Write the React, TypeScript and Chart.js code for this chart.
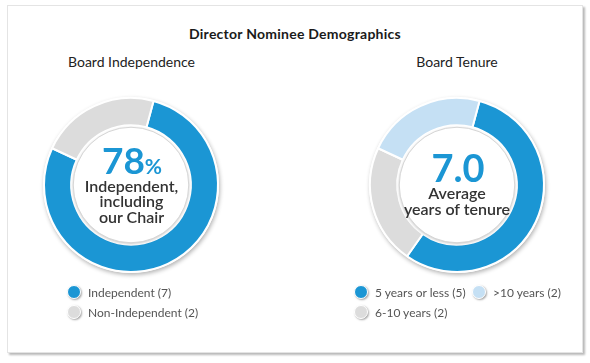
import React, { useEffect, useRef } from "react";
import { Chart, registerables } from "chart.js";

Chart.register(...registerables);

// ---- data ----
const mainTitle = "Director Nominee Demographics";

const independenceTitle = "Board Independence";
const independenceLabels = ["Independent", "Non-Independent"];
const independenceCounts = [7, 2];
const independenceColors = ["#1b96d4", "#dcdcdc"];
const independenceCenterValue = "78";
const independenceCenterUnit = "%";
const independenceCenterLines = ["Independent,", "including", "our Chair"];

const tenureTitle = "Board Tenure";
const tenureLabels = ["5 years or less", "6-10 years", ">10 years"];
const tenureCounts = [5, 2, 2];
const tenureColors = ["#1b96d4", "#dcdcdc", "#c5e0f4"];
const tenureCenterValue = "7.0";
const tenureCenterLines = ["Average", "years of tenure"];

const FONT = "Lato, 'Noto Sans', sans-serif";
const ASC = 0.887; // baseline offset (em) for Lato at line-height 1

const ringDecor = {
  id: "ringDecor",
  beforeDatasetsDraw(chart: any) {
    const arc = chart.getDatasetMeta(0).data[0];
    if (!arc) return;
    const { x, y, outerRadius } = arc.getProps(["x", "y", "outerRadius"], true);
    const ctx = chart.ctx;
    ctx.save();
    ctx.beginPath();
    ctx.arc(x, y, outerRadius + 1, 0, Math.PI * 2);
    ctx.fillStyle = "#ffffff";
    ctx.shadowColor = "rgba(0,0,0,0.30)";
    ctx.shadowBlur = 4;
    ctx.shadowOffsetX = 1;
    ctx.shadowOffsetY = 2;
    ctx.fill();
    ctx.restore();
  },
  afterDatasetsDraw(chart: any) {
    const arc = chart.getDatasetMeta(0).data[0];
    if (!arc) return;
    const { x, y, innerRadius } = arc.getProps(["x", "y", "innerRadius"], true);
    const ctx = chart.ctx;
    ctx.save();
    ctx.beginPath();
    ctx.arc(x, y, innerRadius - 2, 0, Math.PI * 2);
    ctx.fillStyle = "#ffffff";
    ctx.shadowColor = "rgba(0,0,0,0.25)";
    ctx.shadowBlur = 3;
    ctx.shadowOffsetX = 0;
    ctx.shadowOffsetY = 1;
    ctx.fill();
    ctx.restore();
    ctx.save();
    ctx.beginPath();
    ctx.arc(x, y, innerRadius - 2, 0, Math.PI * 2);
    ctx.strokeStyle = "#d6d6d6";
    ctx.lineWidth = 1;
    ctx.stroke();
    ctx.restore();
  },
};

function Donut(props: { labels: string[]; values: number[]; colors: string[]; left: number; top: number }) {
  const ref = useRef<HTMLCanvasElement>(null);
  useEffect(() => {
    if (!ref.current) return;
    const chart = new Chart(ref.current, {
      type: "doughnut",
      data: {
        labels: props.labels,
        datasets: [
          {
            data: props.values,
            backgroundColor: props.colors,
            borderColor: "#ffffff",
            borderWidth: 2,
          },
        ],
      },
      options: {
        responsive: false,
        animation: false,
        events: [],
        radius: 87,
        cutout: 68,
        rotation: 15,
        layout: { padding: 0 },
        plugins: { legend: { display: false }, tooltip: { enabled: false } },
      } as any,
      plugins: [ringDecor],
    });
    return () => chart.destroy();
  }, []);
  return (
    <canvas
      ref={ref}
      width={200}
      height={200}
      style={{ position: "absolute", left: props.left, top: props.top, width: 200, height: 200 }}
    />
  );
}

function Txt(props: {
  cx: number;
  base: number;
  size: number;
  weight?: number;
  color?: string;
  spacing?: number;
  children: any;
}) {
  return (
    <div
      style={{
        position: "absolute",
        left: props.cx - 150,
        width: 300,
        top: props.base - ASC * props.size,
        height: props.size,
        lineHeight: props.size + "px",
        fontSize: props.size,
        fontWeight: props.weight ?? 400,
        color: props.color ?? "#222",
        letterSpacing: props.spacing ?? 0,
        textAlign: "center",
        whiteSpace: "nowrap",
        fontFamily: FONT,
      }}
    >
      {props.children}
    </div>
  );
}

function Legend(props: {
  labels: string[];
  values: number[];
  colors: string[];
  left: number;
  top: number;
  columns: string;
}) {
  return (
    <div
      style={{
        position: "absolute",
        left: props.left,
        top: props.top,
        display: "grid",
        gridAutoFlow: "column",
        gridTemplateRows: "20px 20px",
        gridTemplateColumns: props.columns,
        fontFamily: FONT,
        fontSize: 12,
        color: "#555",
      }}
    >
      {props.labels.map((l, i) => (
        <div key={l} style={{ display: "flex", alignItems: "center", height: 20, whiteSpace: "nowrap" }}>
          <span
            style={{
              display: "inline-block",
              width: 12,
              height: 12,
              borderRadius: "50%",
              background: props.colors[i],
              border: "1px solid #fff",
              boxShadow: "1px 1px 2px rgba(0,0,0,0.35)",
              marginRight: 7,
            }}
          />
          <span>{`${l} (${props.values[i]})`}</span>
        </div>
      ))}
    </div>
  );
}

export default function App() {
  const blue = "#1b96d4";
  return (
    <div style={{ position: "fixed", left: 0, top: 0, width: 590, height: 363, background: "#fff", overflow: "hidden" }}>
      <div
        style={{
          position: "absolute",
          left: 7,
          top: 5,
          width: 574,
          height: 346,
          border: "1px solid #e4e4e4",
          boxShadow: "2px 2px 2px rgba(0,0,0,0.28)",
          background: "#fff",
        }}
      />
      <Txt cx={295} base={39.5} size={14} weight={700} color="#1a1a1a" spacing={0.25}>
        {mainTitle}
      </Txt>
      <Txt cx={131.5} base={67.5} size={14} color="#222">
        {independenceTitle}
      </Txt>
      <Txt cx={457} base={67.5} size={14} color="#222">
        {tenureTitle}
      </Txt>

      <Donut labels={independenceLabels} values={independenceCounts} colors={independenceColors} left={31} top={85} />
      <Donut labels={tenureLabels} values={tenureCounts} colors={tenureColors} left={357} top={85} />

      <Txt cx={132} base={174} size={37} weight={700} color={blue}>
        {independenceCenterValue}
        <span style={{ fontSize: 21 }}>{independenceCenterUnit}</span>
      </Txt>
      {independenceCenterLines.map((t, i) => (
        <Txt key={t} cx={131.5} base={192 + i * 15.5} size={16} weight={600} color="#333">
          {t}
        </Txt>
      ))}

      <Txt cx={458} base={181.4} size={38} weight={700} color={blue}>
        {tenureCenterValue}
      </Txt>
      {tenureCenterLines.map((t, i) => (
        <Txt key={t} cx={457} base={199 + i * 16} size={16} weight={600} color="#333">
          {t}
        </Txt>
      ))}

      <Legend
        labels={independenceLabels}
        values={independenceCounts}
        colors={independenceColors}
        left={67}
        top={282}
        columns="auto"
      />
      <Legend
        labels={tenureLabels}
        values={tenureCounts}
        colors={tenureColors}
        left={354}
        top={282}
        columns="118px auto"
      />
    </div>
  );
}
